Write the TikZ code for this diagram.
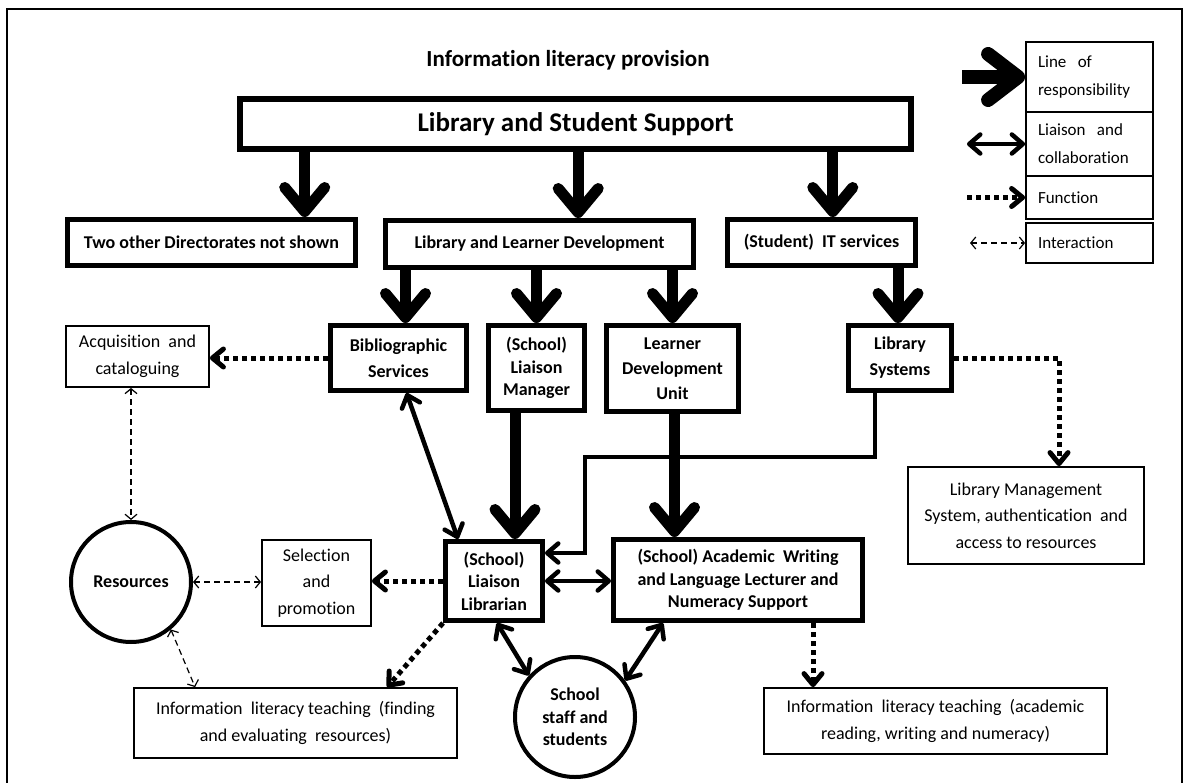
\documentclass[tikz,border=0pt]{standalone}
\usepackage{fontspec}
\setmainfont{Carlito}[Ligatures=NoCommon]
\usetikzlibrary{arrows.meta,calc}

\begin{document}
\begin{tikzpicture}[x=1pt,y=-1pt,
  every node/.style={inner sep=0pt, align=center},
  body/.style={font=\fontsize{18}{26.5}\selectfont},
  bodyb/.style={font=\bfseries\fontsize{18}{26}\selectfont},
  tight/.style={font=\bfseries\fontsize{18}{22.5}\selectfont},
  hbox/.style={draw, line width=5pt},
  lbox/.style={draw, line width=1.8pt},
  ring/.style={draw, circle, line width=4pt, minimum size=120pt},
  keybox/.style={lbox, font=\fontsize{17}{28}\selectfont, text width=103pt,
    align=left, inner xsep=12pt},
  resp/.style={line width=11pt, -{Straight Barb[length=24pt,width=40pt,round]}},
  respkey/.style={line width=14pt, -{Straight Barb[length=30pt,width=46pt,round]}},
  liais/.style={line width=4.5pt,
    {Straight Barb[length=11pt,width=19pt,round]}-{Straight Barb[length=11pt,width=19pt,round]}},
  liaisone/.style={line width=4.5pt, -{Straight Barb[length=11pt,width=19pt,round]}},
  func/.style={line width=5pt, dash pattern=on 5pt off 4pt,
    -{Straight Barb[length=11pt,width=18pt,round]}},
  inter/.style={line width=1.2pt, dash pattern=on 6pt off 4pt,
    {Straight Barb[length=5pt,width=12pt]}-{Straight Barb[length=5pt,width=12pt]}}]

\useasboundingbox (0,0) rectangle (1190,783);
% outer frame
\draw[line width=1.6pt] (7,9) rectangle (1182,800);

% title and top level
\node[font=\bfseries\fontsize{23}{27}\selectfont] (title) at (568,60) {Information literacy provision};
\node[hbox, line width=6pt, minimum width=671pt, minimum height=50pt,
  font=\bfseries\fontsize{27}{32}\selectfont] (lss) at (575.5,124.5) {Library and Student Support};

% directorates
\node[hbox, bodyb, minimum width=288pt, minimum height=46pt] (two) at (211.5,242.5) {Two other Directorates not shown};
\node[hbox, bodyb, minimum width=308pt, minimum height=47pt] (lld) at (539.5,244) {Library and Learner Development};
\node[hbox, bodyb, minimum width=188pt, minimum height=46pt] (it) at (821.5,242.5) {(Student)\ \ IT services};

% units
\node[hbox, bodyb, minimum width=136pt, minimum height=65pt] (bib) at (398.5,358) {Bibliographic\\Services};
\node[hbox, tight, minimum width=96pt, minimum height=85pt] (lm) at (536.5,368) {(School)\\Liaison\\Manager};
\node[hbox, font=\bfseries\fontsize{18}{25}\selectfont, minimum width=132pt, minimum height=86pt] (ldu) at (672.5,368.5) {Learner\\Development\\Unit};
\node[hbox, bodyb, minimum width=103pt, minimum height=65pt] (libsys) at (900,358) {Library\\Systems};

% functions and people
\node[lbox, body, minimum width=143pt, minimum height=61pt] (acq) at (137.5,356.5) {Acquisition\ \ and\\cataloguing};
\node[ring, bodyb] (res) at (131,582) {Resources};
\node[lbox, body, minimum width=109pt, minimum height=86pt] (sel) at (316.5,583) {Selection\\and\\promotion};
\node[hbox, tight, minimum width=97pt, minimum height=79pt] (lib) at (494,581) {(School)\\Liaison\\Librarian};
\node[hbox, tight, minimum width=249pt, minimum height=81pt] (acad) at (738,580)
  {(School) Academic\ \ Writing\\and Language Lecturer and\\Numeracy Support};
\node[lbox, body, minimum width=236pt, minimum height=97pt] (lms) at (1026,515.5)
  {Library Management\\System, authentication\ \ and\\access to resources};
\node[lbox, body, minimum width=323pt, minimum height=70pt] (info1) at (295.5,723)
  {Information\ \ literacy teaching\ \ (finding\\and evaluating\ \ resources)};
\node[ring, tight] (sch) at (575,717) {School\\staff and\\students};
\node[lbox, body, minimum width=343pt, minimum height=66pt] (info2) at (935.5,721)
  {Information\ \ literacy teaching\ \ (academic\\reading, writing and numeracy)};

% key
\node[keybox, minimum height=70pt] (k1) at (1089.5,77) {Line\ \ of\\responsibility};
\node[keybox, minimum height=64pt] (k2) at (1089.5,144) {Liaison\ \ and\\collaboration};
\node[keybox, minimum height=43pt] (k3) at (1089.5,197.5) {Function};
\node[keybox, minimum height=40pt] (k4) at (1089.5,243) {Interaction};

% lines of responsibility
\coordinate (s1) at ($(lss.south west)!0.1!(lss.south east)$);
\coordinate (s2) at ($(lss.south west)!0.504!(lss.south east)$);
\coordinate (s3) at ($(lss.south west)!0.88!(lss.south east)$);
\draw[resp] (s1) -- (s1 |- two.north);
\draw[resp] (s2) -- (s2 |- lld.north);
\draw[resp] (s3) -- (s3 |- it.north);
\coordinate (b1) at ($(bib.north)+(7,0)$);
\draw[resp] (b1 |- lld.south) -- (b1);
\draw[resp] (lm.north |- lld.south) -- (lm.north);
\draw[resp] (ldu.north |- lld.south) -- (ldu.north);
\coordinate (t1) at ($(libsys.north)+(-2,0)$);
\draw[resp] (t1 |- it.south) -- (t1);
\coordinate (m1) at ($(lm.south)+(-21.5,0)$);
\draw[resp] (m1) -- (m1 |- lib.north);
\coordinate (d1) at ($(ldu.south)+(2,0)$);
\draw[resp] (d1) -- (d1 |- acad.north);

% library systems to liaison librarian
\coordinate (y1) at ($(libsys.south)+(-25,0)$);
\coordinate (y2) at ($(lib.north east)+(40,-82)$);
\coordinate (y3) at ($(lib.north east)+(0,14)$);
\draw[liaisone, line join=miter] (y1) |- (y2) |- (y3);

% liaison and collaboration
\draw[liais] ($(bib.south)+(8,0)$) -- ($(lib.north west)+(15,0)$);
\draw[liais] (lib.east) -- (lib.east -| acad.west);
\draw[liais] ($(lib.south)+(3,0)$) -- (sch.138);
\draw[liais] ($(acad.south west)+(52,0)$) -- (sch.36);

% functions
\draw[func] (bib.west) -- (bib.west -| acq.east);
\coordinate (f1) at ($(lms.north)+(33,0)$);
\draw[func] (libsys.east) -| (f1);
\draw[func] (lib.west) -- (lib.west -| sel.east);
\draw[func] (lib.south west) -- ($(info1.north west)+(254,0)$);
\coordinate (a2) at ($(acad.south west)+(202,0)$);
\draw[func] (a2) -- (a2 |- info2.north);

% interactions
\draw[inter] (res.north |- acq.south) -- (res.north);
\draw[inter] (res.east) -- (res.east -| sel.west);
\draw[inter] (res.-50) -- ($(info1.north west)+(62,0)$);

% key arrows
\coordinate (e1) at (962,77);
\coordinate (e2) at (967,144);
\coordinate (e3) at (967,197.5);
\coordinate (e4) at (970,243);
\draw[respkey] (e1) -- (k1.west);
\draw[liais] (e2) -- (k2.west);
\draw[func] (e3) -- (k3.west);
\draw[inter] (e4) -- (k4.west);
\end{tikzpicture}
\end{document}
